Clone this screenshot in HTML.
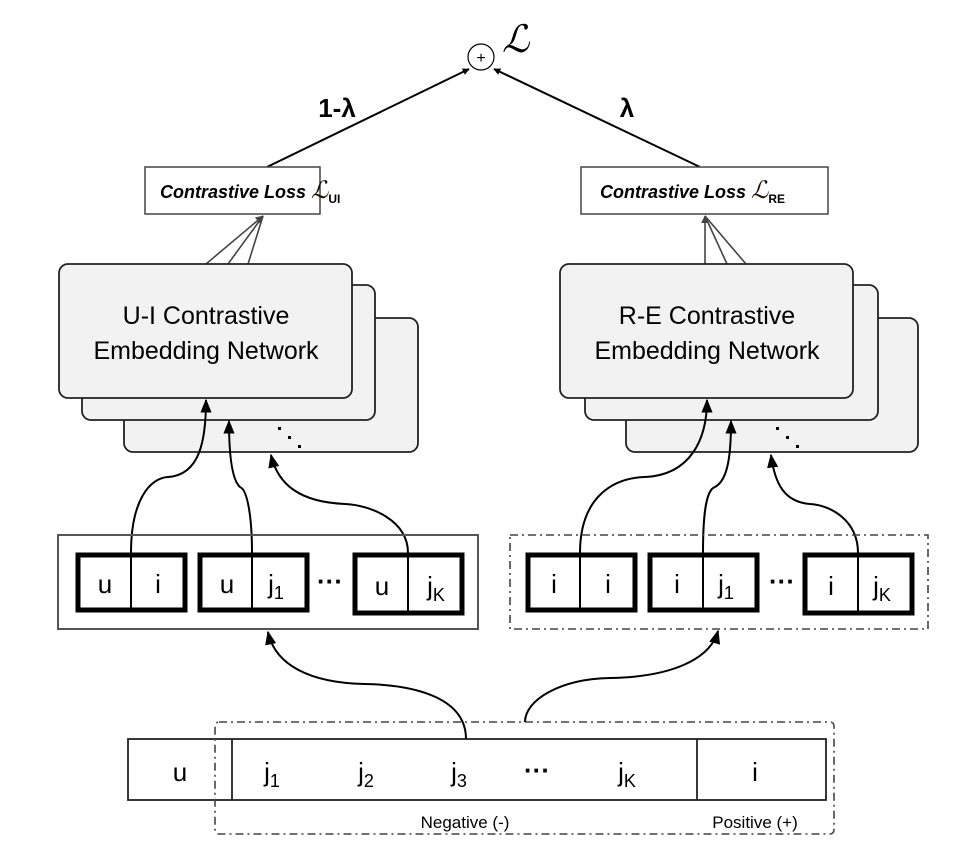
<!DOCTYPE html>
<html><head><meta charset="utf-8"><style>
html,body{margin:0;padding:0;background:#fff;}
svg{display:block;}
text{font-family:"Liberation Sans",sans-serif;fill:#000;}
</style></head><body>
<svg width="956" height="866" viewBox="0 0 956 866" xmlns="http://www.w3.org/2000/svg">
<defs>
<marker id="a" viewBox="0 0 10 10" refX="9" refY="5" markerWidth="7" markerHeight="7" orient="auto-start-reverse" markerUnits="userSpaceOnUse">
<path d="M0,0 L10,5 L0,10 z" fill="#000"/></marker>
<marker id="g" viewBox="0 0 10 10" refX="9" refY="5" markerWidth="8" markerHeight="8" orient="auto" markerUnits="userSpaceOnUse">
<path d="M0,0 L10,5 L0,10 z" fill="#444"/></marker>
<marker id="b" viewBox="0 0 10 10" refX="9" refY="5" markerWidth="14" markerHeight="14" orient="auto" markerUnits="userSpaceOnUse">
<path d="M0,1 L10,5 L0,9 z" fill="#000"/></marker>
</defs>

<circle cx="481" cy="57" r="13" fill="#fff" stroke="#000" stroke-width="1.2"/>
<text x="481" y="63" font-size="16" text-anchor="middle" font-family="Liberation Serif">+</text>
<text x="502" y="52" font-size="38" font-style="italic" font-family="Liberation Serif">ℒ</text>
<line x1="267" y1="167" x2="469" y2="69" stroke="#000" stroke-width="2" marker-end="url(#a)"/>
<line x1="700" y1="167" x2="494" y2="69" stroke="#000" stroke-width="2" marker-end="url(#a)"/>
<text x="337" y="117" font-size="26" font-weight="bold" text-anchor="middle">1-λ</text>
<text x="627" y="117" font-size="26" font-weight="bold" text-anchor="middle">λ</text>

<rect x="145" y="167" width="175" height="47" fill="#fff" stroke="#444" stroke-width="1.5"/>
<text x="160" y="198" font-size="18" font-weight="bold" font-style="italic">Contrastive Loss <tspan font-family="Liberation Serif" font-weight="normal" font-size="24" fill="#1a1000">ℒ</tspan><tspan font-size="12" font-style="normal" dy="5">UI</tspan></text>
<rect x="581" y="167" width="247" height="47" fill="#fff" stroke="#444" stroke-width="1.5"/>
<text x="600" y="198" font-size="18" font-weight="bold" font-style="italic">Contrastive Loss <tspan font-family="Liberation Serif" font-weight="normal" font-size="24" fill="#1a1000">ℒ</tspan><tspan font-size="12" font-style="normal" dy="5">RE</tspan></text>

<g stroke="#444" stroke-width="1.6">
<line x1="206" y1="264" x2="263" y2="216" marker-end="url(#g)"/>
<line x1="228" y1="264" x2="263" y2="216"/>
<line x1="248" y1="264" x2="263" y2="216"/>
<line x1="705" y1="264" x2="705" y2="216" marker-end="url(#g)"/>
<line x1="727" y1="264" x2="705" y2="216"/>
<line x1="746" y1="264" x2="705" y2="216"/>
</g>

<g fill="#f2f2f2" stroke="#222" stroke-width="1.8">
<rect x="124" y="318" width="294" height="134" rx="9"/>
<rect x="82" y="285" width="293" height="135" rx="9"/>
<rect x="59" y="264" width="293" height="134" rx="9"/>
<rect x="626" y="318" width="292" height="134" rx="9"/>
<rect x="585" y="285" width="293" height="135" rx="9"/>
<rect x="560" y="264" width="293" height="134" rx="9"/>
</g>
<text x="206" y="324" font-size="25" text-anchor="middle">U-I Contrastive</text>
<text x="206" y="359" font-size="25" text-anchor="middle">Embedding Network</text>
<text x="707" y="324" font-size="25" text-anchor="middle">R-E Contrastive</text>
<text x="707" y="359" font-size="25" text-anchor="middle">Embedding Network</text>
<g fill="#000">
<rect x="278" y="427" width="3" height="3"/><rect x="288" y="436" width="3" height="3"/><rect x="298" y="445" width="3" height="3"/>
<rect x="776" y="427" width="3" height="3"/><rect x="786" y="436" width="3" height="3"/><rect x="796" y="445" width="3" height="3"/>
</g>

<g fill="none" stroke="#000" stroke-width="2" marker-end="url(#b)">
<path d="M131,553 C131,500 150,478 168,477 C200,475 206,440 206,400"/>
<path d="M252,553 C252,520 248,490 240,487 C232,480 229,455 229,421"/>
<path d="M408,553 C408,520 370,505 345,504 C300,502 278,485 271,455"/>
<path d="M580,553 C580,500 610,478 645,477 C690,475 707,440 707,400"/>
<path d="M703,553 C703,520 705,490 715,487 C728,480 731,455 731,421"/>
<path d="M858,553 C858,520 830,505 810,504 C785,502 775,485 771,455"/>
</g>

<rect x="58" y="535" width="420" height="94" fill="none" stroke="#555" stroke-width="2"/>
<g fill="#fff" stroke="#000" stroke-width="5">
<rect x="78" y="555" width="107" height="55"/>
<rect x="200" y="555" width="107" height="55"/>
<rect x="355" y="555" width="107" height="58"/>
<rect x="528" y="555" width="107" height="55"/>
<rect x="650" y="555" width="107" height="55"/>
<rect x="805" y="555" width="107" height="58"/>
</g>
<g stroke="#000" stroke-width="2">
<line x1="131" y1="555" x2="131" y2="610"/>
<line x1="252" y1="555" x2="252" y2="610"/>
<line x1="408" y1="555" x2="408" y2="613"/>
<line x1="580" y1="555" x2="580" y2="610"/>
<line x1="703" y1="555" x2="703" y2="610"/>
<line x1="858" y1="555" x2="858" y2="613"/>
</g>
<g font-size="26" text-anchor="middle">
<text x="105" y="593">u</text><text x="158" y="593">i</text>
<text x="227" y="593">u</text><text x="276" y="593">j<tspan font-size="18" dy="6">1</tspan></text>
<text x="330" y="590" font-weight="bold">···</text>
<text x="382" y="595">u</text><text x="436" y="595">j<tspan font-size="18" dy="6">K</tspan></text>
<text x="554" y="593">i</text><text x="608" y="593">i</text>
<text x="677" y="593">i</text><text x="726" y="593">j<tspan font-size="18" dy="6">1</tspan></text>
<text x="782" y="590" font-weight="bold">···</text>
<text x="831" y="595">i</text><text x="882" y="595">j<tspan font-size="18" dy="6">K</tspan></text>
</g>
<rect x="510" y="535" width="418" height="94" fill="none" stroke="#444" stroke-width="1.6" stroke-dasharray="8,4,2,4"/>

<rect x="128" y="739" width="698" height="61" fill="#fff" stroke="#222" stroke-width="1.8"/>
<line x1="232" y1="739" x2="232" y2="800" stroke="#222" stroke-width="1.8"/>
<line x1="697" y1="739" x2="697" y2="800" stroke="#222" stroke-width="1.8"/>
<rect x="215" y="722" width="619" height="112" rx="4" fill="none" stroke="#444" stroke-width="1.6" stroke-dasharray="8,4,2,4"/>
<g font-size="26" text-anchor="middle">
<text x="180" y="781">u</text>
<text x="272" y="781">j<tspan font-size="18" dy="6">1</tspan></text>
<text x="366" y="781">j<tspan font-size="18" dy="6">2</tspan></text>
<text x="459" y="781">j<tspan font-size="18" dy="6">3</tspan></text>
<text x="537" y="779" font-weight="bold">···</text>
<text x="627" y="781">j<tspan font-size="18" dy="6">K</tspan></text>
<text x="755" y="781">i</text>
</g>
<text x="465" y="828" font-size="17" text-anchor="middle">Negative (-)</text>
<text x="755" y="828" font-size="17" text-anchor="middle">Positive (+)</text>

<g fill="none" stroke="#000" stroke-width="2" marker-end="url(#b)">
<path d="M466,739 C466,700 420,685 365,684 C310,683 275,665 268,632"/>
<path d="M525,722 C525,700 560,679 610,678 C670,677 710,660 718,631"/>
</g>
</svg>
</body></html>
